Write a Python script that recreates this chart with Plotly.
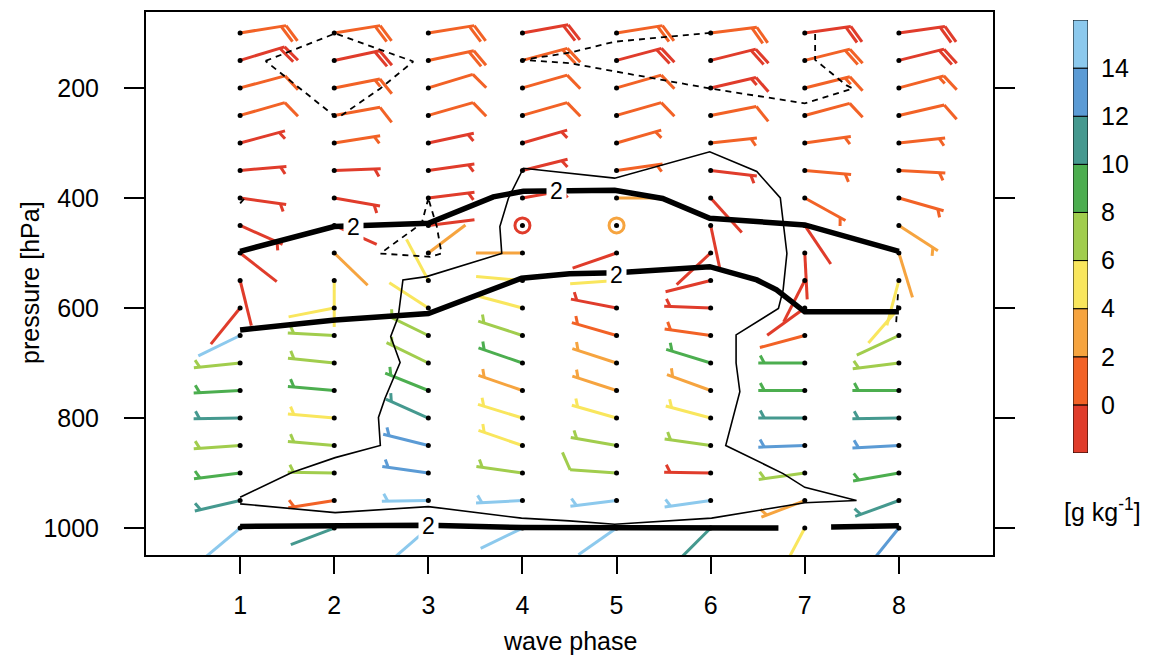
import numpy as np
import plotly.graph_objects as go

# ---------------- data ----------------
phases = [1, 2, 3, 4, 5, 6, 7, 8]
levels = [100, 150, 200, 250, 300, 350, 400, 450, 500, 550,
          600, 650, 700, 750, 800, 850, 900, 950, 1000]

# wind direction (deg, meteorological) per phase, levels 100..1000 hPa
wdir = [
    [81, 73, 75, 74, 75, 85, 98, 114, 128, 166, 219, 244, 264, 267, 269, 266, 263, 257, 230],
    [81, 78, 79, 80, 81, 88, 100, 114, 134, 180, 259, 273, 276, 275, 275, 275, 271, 261, 249],
    [81, 78, 73, 74, 78, 82, 83, 83, 53, 332, 303, 296, 296, 292, 294, 284, 278, 269, 229],
    [80, 75, 74, 74, 74, 76, 80, 0, 270, 275, 285, 288, 289, 289, 287, 289, 278, 267, 244],
    [81, 75, 74, 74, 74, 82, 90, 0, 251, 266, 281, 286, 288, 288, 286, 280, 274, 263, 235],
    [83, 76, 77, 79, 84, 97, 138, 168, 227, 256, 272, 278, 287, 290, 285, 278, 271, 262, 225],
    [82, 76, 76, 75, 82, 95, 119, 146, 177, 207, 234, 255, 270, 270, 270, 268, 262, 249, 208],
    [82, 76, 75, 77, 84, 93, 106, 123, 163, 195, 221, 245, 263, 270, 269, 267, 260, 250, 219],
]
# wind speed (kt)
wspd = [
    [20, 20, 10, 10, 5, 5, 5, 5, 3, 3, 3, 3, 5, 5, 5, 5, 5, 5, 3],
    [20, 20, 15, 10, 5, 5, 5, 3, 3, 3, 3, 5, 5, 5, 5, 5, 5, 5, 3],
    [20, 20, 10, 10, 5, 5, 5, 3, 3, 3, 3, 5, 5, 5, 5, 5, 5, 5, 3],
    [20, 20, 10, 10, 5, 5, 5, 0, 3, 3, 3, 5, 5, 5, 5, 5, 5, 5, 3],
    [20, 20, 10, 10, 5, 5, 3, 0, 3, 3, 5, 5, 5, 5, 5, 5, 10, 5, 3],
    [20, 20, 15, 10, 5, 5, 3, 3, 3, 3, 5, 5, 5, 5, 5, 5, 5, 5, 3],
    [20, 20, 15, 10, 5, 5, 5, 3, 3, 3, 3, 3, 5, 5, 5, 5, 5, 5, 3],
    [20, 20, 15, 10, 5, 5, 5, 5, 3, 3, 3, 3, 5, 5, 5, 5, 5, 5, 3],
]
# mixing ratio (g/kg)
qv = [
    [1, -1, 1, 1, -1, -1, -1, -1, -1, -1, -1, 15, 7, 9, 11, 7, 9, 11, 15],
    [1, -1, 1, 1, 1, -1, -1, -1, 3, 5, 5, 7, 7, 9, 5, 7, 7, 1, 11],
    [1, 1, 1, 1, -1, -1, -1, -1, 3, 5, 5, 7, 7, 9, 11, 13, 13, 15, 15],
    [-1, 1, 1, 1, -1, -1, -1, -1, 3, 5, 5, 7, 9, 3, 5, 5, 7, 15, 15],
    [1, -1, 1, 1, 1, 1, 3, 3, -1, 5, -1, 1, 3, 3, 5, 7, 7, 15, 15],
    [1, -1, -1, 1, 1, -1, -1, -1, -1, -1, -1, 1, 9, 3, 5, 7, -1, 15, 11],
    [-1, 1, 1, 1, 1, 1, 1, -1, -1, -1, -1, 1, 9, 9, 11, 13, 7, 3, 5],
    [-1, -1, 1, 1, 1, 1, 1, 3, 3, 5, 5, 7, 7, 9, 11, 13, 9, 11, 13],
]

cb_bounds = [-2, 0, 2, 4, 6, 8, 10, 12, 14, 16]
cb_colors = ['#E03C2B', '#F26226', '#F6A43F', '#F9E65D', '#A1CD4D',
             '#4CAE4F', '#45998F', '#5B9BD5', '#8CC9ED']
cb_ticks = [0, 2, 4, 6, 8, 10, 12, 14]

# contour lines (wave phase, hPa)
thick_x = [1, 2, 3, 3.69, 4.01, 4.98, 5.49, 5.99, 7, 8, None,
           1, 2.01, 3, 3.99, 4.5, 5, 5.99, 6.49, 6.7, 7, 8, None,
           1, 2, 3, 4, 5, 6, 6.72, None, 7.28, 8]
thick_p = [497, 452, 446, 398, 388, 386, 401, 437, 449, 497, None,
           640, 622, 610, 546, 538, 536, 525, 549, 567, 607, 607, None,
           997, 997, 995, 999, 1000, 1000, 1000, None, 998, 996]
thin_x = [1, 1.55, 2.01, 2.49, 2.47, 2.54, 2.70, 2.60, 2.68, 2.73, 2.98, 3.78, 3.76,
          3.85, 4.01, 4.5, 4.98, 5.99, 6.49, 6.74, 6.81, 6.77, 6.72, 6.27, 6.27,
          6.31, 6.16, 6.77, 7.0, 7.55, 7.0, 6.01, 4.98, 4.5, 3.99, 3.0, 2.01, 1]
thin_p = [944, 899, 872, 850, 799, 764, 699, 652, 616, 549, 543, 501, 452,
          401, 346, 355, 364, 316, 352, 400, 501, 567, 601, 649, 700,
          752, 850, 901, 926, 950, 954, 982, 993, 987, 982, 961, 972, 956]
dash_x = [1.27, 2.01, 2.84, 2.49, 2.06, 2.01, 1.27, None,
          3.0, 2.93, 2.49, 3.02, 3.14, 3.09, 3.0, None,
          6.0, 4.98, 4.5, 4.0, 4.5, 5.99, 7.0, 7.51, 7.44, 7.11, 7.11, None,
          1.0, 1.06, None, 7.99, 7.97]
dash_p = [151, 101, 152, 201, 252, 252, 151, None,
          401, 446, 501, 507, 501, 452, 401, None,
          100, 116, 136, 149, 155, 201, 228, 201, 195, 149, 100, None,
          410, 398, None, 575, 630]
label_x = [2.2, 4.36, 5.0, 3.0]
label_p = [452, 388, 540, 997]
label_txt = ['2', '2', '2', '2']

# ---------------- geometry ----------------
W, H = 1152, 660
OFF = 8  # page body margin of the browser
PL, PR, PT, PB = 146 - OFF, 993 - OFF, 12 - OFF, 555 - OFF
XR = [0, 9]
YR = [1049, 62]
px_x = (PR - PL) / (XR[1] - XR[0])
px_p = (PB - PT) / (YR[0] - YR[1])

STAFF = 46.5
FULL = 19.0
HALF = 8.5
SPACE = 5.0
ROT = np.deg2rad(-62)


def cls(v):
    for i in range(len(cb_bounds) - 1):
        if cb_bounds[i] <= v < cb_bounds[i + 1]:
            return i
    return len(cb_bounds) - 2


segs = {i: ([], []) for i in range(len(cb_colors))}
calm_x, calm_p, calm_c = [], [], []


def add_seg(k, x0, p0, a, b):
    xs, ps = segs[k]
    xs += [x0 + a[0] / px_x, x0 + b[0] / px_x, None]
    ps += [p0 - a[1] / px_p, p0 - b[1] / px_p, None]


for j, ph in enumerate(phases):
    for i, lev in enumerate(levels):
        d, s, q = wdir[j][i], wspd[j][i], qv[j][i]
        k = cls(q)
        if s == 0:
            calm_x.append(ph); calm_p.append(lev); calm_c.append(cb_colors[k])
            continue
        r = np.deg2rad(d)
        u, v = np.sin(r), np.cos(r)
        bx = u * np.cos(ROT) - v * np.sin(ROT)
        by = u * np.sin(ROT) + v * np.cos(ROT)
        add_seg(k, ph, lev, (0, 0), (STAFF * u, STAFF * v))
        nfull = int(s // 10)
        half = (s % 10) >= 5
        pos = STAFF
        for n in range(nfull):
            a = (pos * u, pos * v)
            add_seg(k, ph, lev, a, (a[0] + FULL * bx, a[1] + FULL * by))
            pos -= SPACE
        if half:
            if nfull == 0:
                pos = STAFF - 6
            a = (pos * u, pos * v)
            add_seg(k, ph, lev, a, (a[0] + HALF * bx, a[1] + HALF * by))

fig = go.Figure()

for k in range(len(cb_colors)):
    xs, ps = segs[k]
    if xs:
        fig.add_trace(go.Scatter(x=xs, y=ps, mode='lines',
                                 line=dict(color=cb_colors[k], width=3),
                                 hoverinfo='skip', showlegend=False))

fig.add_trace(go.Scatter(x=thin_x, y=thin_p, mode='lines',
                         line=dict(color='black', width=1.6), showlegend=False))
fig.add_trace(go.Scatter(x=dash_x, y=dash_p, mode='lines',
                         line=dict(color='black', width=1.8, dash='6px,5px'), showlegend=False))
fig.add_trace(go.Scatter(x=thick_x, y=thick_p, mode='lines',
                         line=dict(color='black', width=5.5), showlegend=False))

gx = [ph for ph in phases for _ in levels]
gp = [lev for _ in phases for lev in levels]
fig.add_trace(go.Scatter(x=gx, y=gp, mode='markers',
                         marker=dict(color='black', size=5), showlegend=False))
fig.add_trace(go.Scatter(x=calm_x, y=calm_p, mode='markers',
                         marker=dict(symbol='circle-open', size=15,
                                     line=dict(color=calm_c, width=3), color=calm_c),
                         showlegend=False))

FONT = 'Liberation Sans, Arial, sans-serif'
for lx, lp, lt in zip(label_x, label_p, label_txt):
    fig.add_annotation(x=lx, y=lp, xref='x', yref='y', text=lt, showarrow=False,
                       xanchor='center', yanchor='middle',
                       font=dict(size=23, color='black', family=FONT),
                       bgcolor='white', borderpad=3)

# colour bar as stacked bars
fig.add_trace(go.Bar(x=[0] * (len(cb_bounds) - 1),
                     y=[cb_bounds[i + 1] - cb_bounds[i] for i in range(len(cb_bounds) - 1)],
                     base=cb_bounds[:-1], width=1,
                     marker=dict(color=cb_colors, line=dict(color='black', width=1)),
                     xaxis='x2', yaxis='y2', showlegend=False, hoverinfo='skip'))

FS = 25
fig.update_layout(
    width=W, height=H,
    margin=dict(l=0, r=0, t=0, b=0),
    paper_bgcolor='white', plot_bgcolor='white',
    barmode='overlay',
    font=dict(family=FONT, size=FS, color='black'),
    xaxis=dict(domain=[PL / W, PR / W], range=XR, tickvals=phases,
               ticks='outside', ticklen=17, tickwidth=1.5, tickcolor='black',
               showline=True, linecolor='black', linewidth=2, mirror=True,
               showgrid=False, zeroline=False, ticklabelstandoff=10,
               tickfont=dict(size=FS)),
    yaxis=dict(domain=[1 - PB / H, 1 - PT / H], range=YR,
               tickvals=[200, 400, 600, 800, 1000],
               ticks='outside', ticklen=20, tickwidth=1.5, tickcolor='black',
               showline=True, linecolor='black', linewidth=2, mirror='ticks',
               showgrid=False, zeroline=False, ticklabelstandoff=20,
               tickfont=dict(size=FS)),
    xaxis2=dict(domain=[(1073 - OFF) / W, (1088 - OFF) / W], range=[-0.5, 0.5], anchor='y2',
                showticklabels=False, showgrid=False, zeroline=False, showline=False,
                fixedrange=True),
    yaxis2=dict(domain=[1 - (453 - OFF) / H, 1 - (20 - OFF) / H],
                range=[cb_bounds[0], cb_bounds[-1]],
                anchor='x2', side='right', tickvals=cb_ticks, ticks='',
                showgrid=False, zeroline=False, showline=False,
                ticklabelstandoff=12, tickfont=dict(size=FS)),
)

fig.add_annotation(x=(570 - OFF) / W, y=1 - (641 - OFF) / H, xref='paper', yref='paper',
                   xanchor='center', yanchor='middle',
                   text='wave phase', showarrow=False, font=dict(size=FS))
fig.add_annotation(x=(30 - OFF) / W, y=1 - (283 - OFF) / H, xref='paper', yref='paper',
                   xanchor='center', yanchor='middle',
                   text='pressure [hPa]', textangle=-90, showarrow=False, font=dict(size=FS))
fig.add_annotation(x=(1102 - OFF) / W, y=1 - (510 - OFF) / H, xref='paper', yref='paper',
                   xanchor='center', yanchor='middle',
                   text='[g kg<sup>-1</sup>]', showarrow=False, font=dict(size=FS))

fig.write_html('out.html')
